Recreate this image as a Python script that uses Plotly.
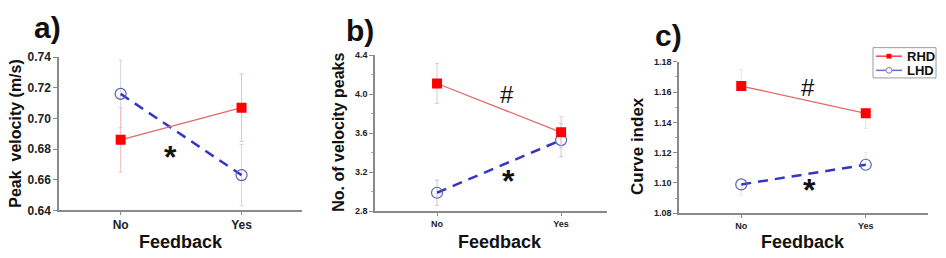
import plotly.graph_objects as go

categories = ["No", "Yes"]
cat_pos = [0, 1]
series_names = ["RHD", "LHD"]

# Panel a: Peak velocity (m/s)
a_rhd = [0.686, 0.707]
a_rhd_err = [0.021, 0.022]
a_lhd = [0.716, 0.663]
a_lhd_err = [0.022, 0.020]

# Panel b: No. of velocity peaks
b_rhd = [4.11, 3.61]
b_rhd_err = [0.205, 0.16]
b_lhd = [2.99, 3.53]
b_lhd_err = [0.13, 0.17]

# Panel c: Curve index (one-sided bars as visible)
c_rhd = [1.164, 1.146]
c_rhd_plus = [0.011, 0.0]
c_rhd_minus = [0.0, 0.010]
c_lhd = [1.099, 1.112]
c_lhd_plus = [0.0, 0.008]
c_lhd_minus = [0.007, 0.0]

RED = "#ff0000"
RED_LINE = "#e06a6a"
BLUE_LINE = "#3535c8"
BLUE_MK = "#5a62b0"
FONT = "Liberation Sans, Arial, sans-serif"

fig = go.Figure()

def add_pair(xa, ya, rhd, rhd_e, lhd, lhd_e, err_r_col, err_b_col, rhd_minus=None, lhd_minus=None):
    ey_r = dict(type="data", array=rhd_e, color=err_r_col, thickness=1, width=2)
    if rhd_minus is not None:
        ey_r["symmetric"] = False
        ey_r["arrayminus"] = rhd_minus
    ey_b = dict(type="data", array=lhd_e, color=err_b_col, thickness=1, width=2)
    if lhd_minus is not None:
        ey_b["symmetric"] = False
        ey_b["arrayminus"] = lhd_minus
    fig.add_trace(go.Scatter(
        x=cat_pos, y=lhd, xaxis=xa, yaxis=ya, name=series_names[1], showlegend=False,
        mode="lines+markers",
        line=dict(color=BLUE_LINE, width=2.5, dash="10px,7px"),
        marker=dict(symbol="circle-open", size=11, color=BLUE_MK, line=dict(width=1.2)),
        error_y=ey_b,
    ))
    fig.add_trace(go.Scatter(
        x=cat_pos, y=rhd, xaxis=xa, yaxis=ya, name=series_names[0], showlegend=False,
        mode="lines+markers",
        line=dict(color=RED_LINE, width=1.3),
        marker=dict(symbol="square", size=10, color=RED),
        error_y=ey_r,
    ))

add_pair("x", "y", a_rhd, a_rhd_err, a_lhd, a_lhd_err, "#f2bcbc", "#d4d4e6")
add_pair("x2", "y2", b_rhd, b_rhd_err, b_lhd, b_lhd_err, "#f2c4c4", "#c8c8d8")
add_pair("x3", "y3", c_rhd, c_rhd_plus, c_lhd, c_lhd_plus, "#e6e6e6", "#e6e6e6",
         rhd_minus=c_rhd_minus, lhd_minus=c_lhd_minus)

W, H = 946, 258
def xd(l, r):
    return [l / W, r / W]
def yd(t, b):
    return [1 - b / H, 1 - t / H]
def px(v):
    return v / W
def py(v):
    return 1 - v / H

axcommon = dict(showgrid=False, zeroline=False, showline=True, linecolor="#8a8a8a", linewidth=1.5,
                ticks="outside", tickcolor="#8a8a8a", mirror=False)

fig.update_layout(
    width=W, height=H, margin=dict(l=0, r=0, t=0, b=0),
    paper_bgcolor="white", plot_bgcolor="white",
    font=dict(family=FONT, color="#222222"),
    showlegend=False,
    xaxis=dict(axcommon, anchor="y", domain=xd(59, 302), range=[-0.51, 1.5], tickvals=cat_pos, ticktext=categories,
               ticklen=3, tickfont=dict(size=12, weight="bold", color="#222")),
    yaxis=dict(axcommon, anchor="x", domain=yd(53, 215), range=[0.64, 0.74], dtick=0.02, tickformat=".2f",
               ticklen=4, tickfont=dict(size=12, weight="bold", color="#222")),
    xaxis2=dict(axcommon, anchor="y2", domain=xd(375, 607), range=[-0.5, 1.37], tickvals=cat_pos, ticktext=categories,
                ticklen=3, tickfont=dict(size=9, weight="bold", color="#222")),
    yaxis2=dict(axcommon, anchor="x2", domain=yd(51, 216), range=[2.8, 4.4], dtick=0.4, tickformat=".1f",
                ticklen=4, tickfont=dict(size=9, weight="bold", color="#222"),
                minor=dict(ticks="outside", ticklen=2, tickcolor="#aaaaaa", dtick=0.2)),
    xaxis3=dict(axcommon, anchor="y3", domain=xd(679, 928), range=[-0.5, 1.5], tickvals=cat_pos, ticktext=categories,
                ticklen=3, tickfont=dict(size=9, weight="bold", color="#222")),
    yaxis3=dict(axcommon, anchor="x3", domain=yd(58, 218), range=[1.08, 1.18], dtick=0.02, tickformat=".2f",
                ticklen=4, tickfont=dict(size=9, weight="bold", color="#222"),
                minor=dict(ticks="outside", ticklen=2, tickcolor="#aaaaaa", dtick=0.01)),
)

ann = []
# panel letters
for txt, x0, y0 in [("a)", 47, 22), ("b)", 360, 25), ("c)", 668, 30)]:
    ann.append(dict(text=txt, x=px(x0), y=py(y0), xref="paper", yref="paper", showarrow=False,
                    xanchor="center", yanchor="middle", font=dict(size=30, weight="bold", color="#111")))
# y titles
for txt, x0, y0, fs in [("Peak  velocity (m/s)", 16, 134, 16), ("No. of velocity peaks", 339, 133, 16),
                        ("Curve index", 637, 147, 17)]:
    ann.append(dict(text=txt, x=px(x0), y=py(y0), xref="paper", yref="paper", showarrow=False,
                    textangle=-90, xanchor="center", yanchor="middle",
                    font=dict(size=fs, weight="bold", color="#111")))
# x titles
for x0 in [181, 500, 803]:
    ann.append(dict(text="Feedback", x=px(x0), y=py(248), xref="paper", yref="paper", showarrow=False,
                    xanchor="center", yanchor="middle", font=dict(size=18, weight="bold", color="#111")))
# significance marks
for txt, xr, yr, xv, yv, sz, wt in [("*", "x", "y", 0.41, 0.675, 32, "bold"),
                                    ("#", "x2", "y2", 0.565, 4.00, 24, "normal"),
                                    ("*", "x2", "y2", 0.575, 3.11, 32, "bold"),
                                    ("#", "x3", "y3", 0.536, 1.163, 24, "normal"),
                                    ("*", "x3", "y3", 0.545, 1.095, 32, "bold")]:
    ann.append(dict(text=txt, x=xv, y=yv, xref=xr, yref=yr, showarrow=False,
                    xanchor="center", yanchor="middle", font=dict(size=sz, color="#111", weight=wt)))

# compact legend box (panel c)
shapes = [dict(type="rect", xref="paper", yref="paper", x0=px(873), x1=px(936), y0=py(75), y1=py(43),
               line=dict(color="#9a9a9a", width=1), fillcolor="white")]
leg_rows = [(series_names[0], 52, "#ee4444", "solid"), (series_names[1], 67, "#6a6ae0", "solid")]
for name, yrow, col, dash in leg_rows:
    shapes.append(dict(type="line", xref="paper", yref="paper", x0=px(876), x1=px(902), y0=py(yrow), y1=py(yrow),
                       line=dict(color=col, width=1.5)))
    ann.append(dict(text=name, x=px(905), y=py(yrow), xref="paper", yref="paper", showarrow=False,
                    xanchor="left", yanchor="middle", font=dict(size=13, weight="bold", color="#111")))
shapes.append(dict(type="rect", xref="paper", yref="paper", x0=px(886.5), x1=px(891.5), y0=py(54.5), y1=py(49.5),
                   line=dict(color=RED, width=0), fillcolor=RED))
shapes.append(dict(type="circle", xref="paper", yref="paper", x0=px(886), x1=px(892), y0=py(70), y1=py(64),
                   line=dict(color="#7a7ab0", width=1), fillcolor="white"))

fig.update_layout(annotations=ann, shapes=shapes)

fig.write_html("out.html")
